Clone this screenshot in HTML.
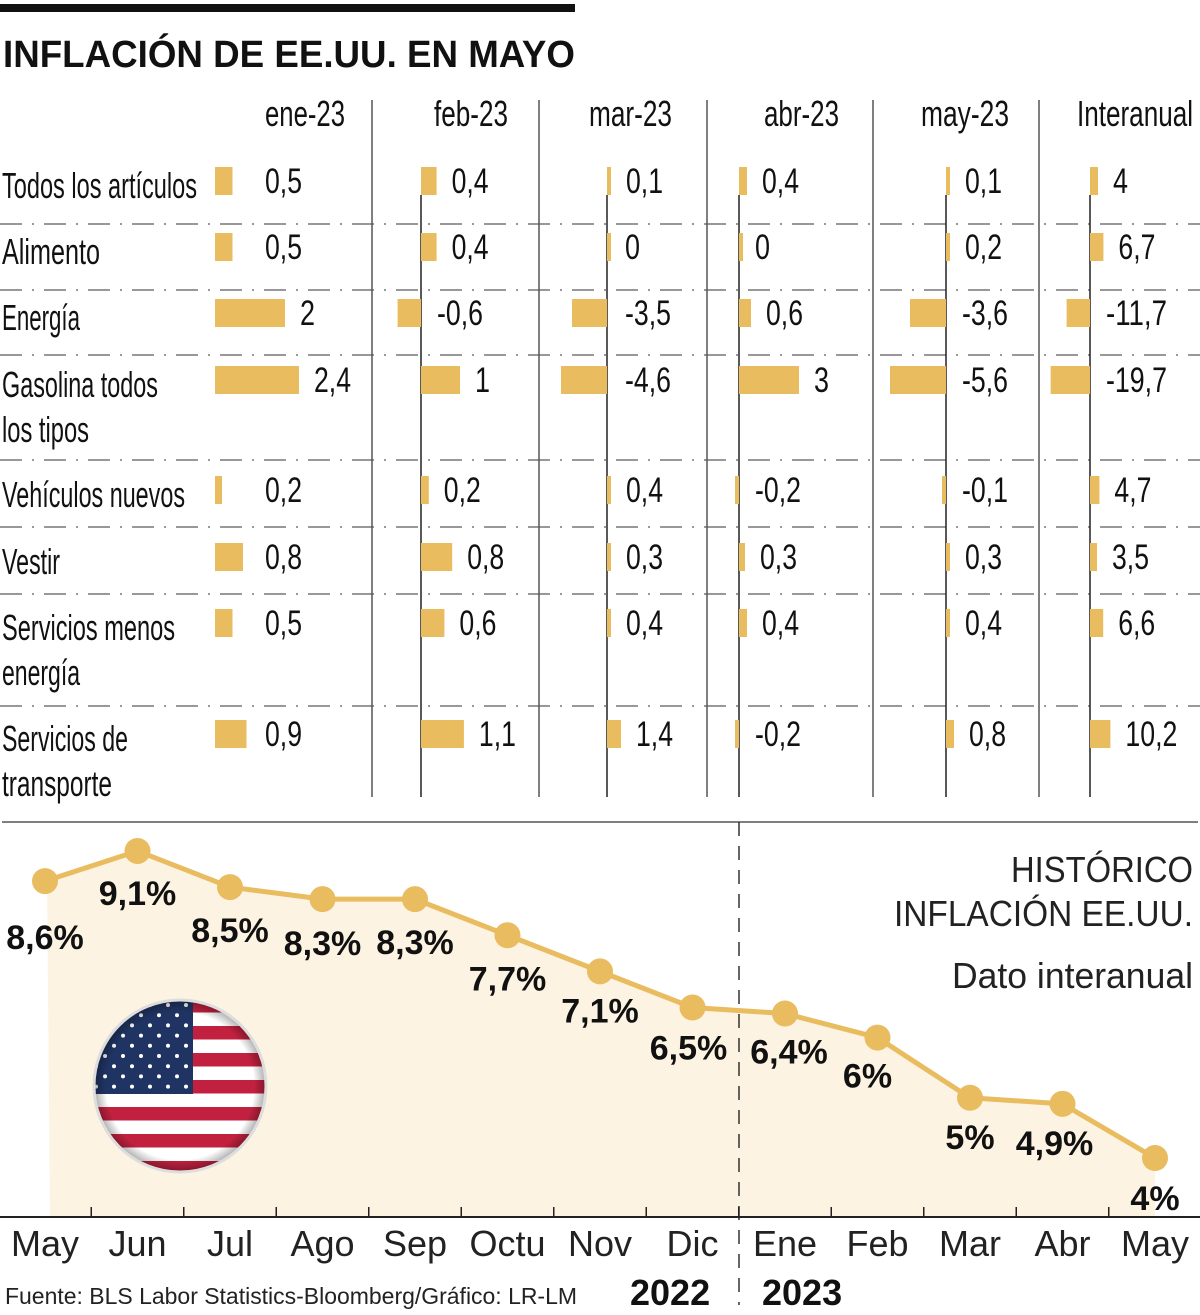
<!DOCTYPE html>
<html><head><meta charset="utf-8"><style>
html,body{margin:0;padding:0;background:#fff;}
svg{display:block;}
text{font-family:"Liberation Sans Narrow","Liberation Sans",sans-serif;}
.w{font-family:"Liberation Sans",sans-serif;}
</style></head><body>
<svg id="s" width="1200" height="1315" viewBox="0 0 1200 1315" xmlns="http://www.w3.org/2000/svg">
<defs>
<clipPath id="fc"><circle cx="180" cy="1086" r="87"/></clipPath>
<radialGradient id="fg" cx="0.5" cy="0.5" r="0.5"><stop offset="0.85" stop-color="#000" stop-opacity="0"/><stop offset="1" stop-color="#000" stop-opacity="0.35"/></radialGradient>
</defs>
<rect x="0" y="4" width="575" height="8" fill="#111"/>
<text x="3" y="67" font-size="38" font-weight="bold" textLength="572" lengthAdjust="spacingAndGlyphs" fill="#111" class="w">INFLACIÓN DE EE.UU. EN MAYO</text>
<g id="table"></g>
<line x1="2" y1="822" x2="1198" y2="822" stroke="#555" stroke-width="1.5"/>
<g id="line"></g>
</svg>
<script>
const NS="http://www.w3.org/2000/svg";
const rowLabels=[["Todos los artículos"],["Alimento"],["Energía"],["Gasolina todos","los tipos"],["Vehículos nuevos"],["Vestir"],["Servicios menos","energía"],["Servicios de","transporte"]];
const colHeaders=["ene-23","feb-23","mar-23","abr-23","may-23","Interanual"];
const eneVals=[0.5,0.5,2,2.4,0.2,0.8,0.5,0.9];
const febVals=[0.4,0.4,-0.6,1,0.2,0.8,0.6,1.1];
const marVals=[0.1,0,-3.5,-4.6,0.4,0.3,0.4,1.4];
const abrVals=[0.4,0,0.6,3,-0.2,0.3,0.4,-0.2];
const mayVals=[0.1,0.2,-3.6,-5.6,-0.1,0.3,0.4,0.8];
const interVals=[4,6.7,-11.7,-19.7,4.7,3.5,6.6,10.2];
const months=["May","Jun","Jul","Ago","Sep","Octu","Nov","Dic","Ene","Feb","Mar","Abr","May"];
const inflation=[8.6,9.1,8.5,8.3,8.3,7.7,7.1,6.5,6.4,6,5,4.9,4];

function el(tag,attrs,parent,txt){const e=document.createElementNS(NS,tag);for(const k in attrs)e.setAttribute(k,attrs[k]);if(txt!==undefined)e.textContent=txt;parent.appendChild(e);return e;}
const fmt=v=>String(v).replace('.',',');
const txtW=s=>{let w=0;for(const ch of s){w+=ch===','?7:(ch==='-'?9:15);}return w;};
const GOLD="#e8bc5f";

// ---- table ----
const T=document.getElementById('table');
const colVals=[eneVals,febVals,marVals,abrVals,mayVals,interVals];
const zeros=[215,421,607,739,946,1090];
const scales=[35,39,10,20,10,2];
const minOff=[50,16,18,16,16,16];
const showAxis=[false,true,true,true,true,true];
const hdrX=[265,434,589,764,921,1077];
const hdrW=[80,74,83,75,88,116];
const rowY=[181,247,313,380,490,557,623,734];
const sepY=[224,290,355,460,527,594,706];
const vSep=[372,539,707,873,1039];
const labW={"Todos los artículos":195,"Alimento":98,"Energía":78,"Gasolina todos":156,"los tipos":87,"Vehículos nuevos":183,"Vestir":58,"Servicios menos":173,"energía":78,"Servicios de":126,"transporte":110};
sepY.forEach(y=>{const l=el('line',{x1:0,y1:y,x2:1200,y2:y,stroke:"#777","stroke-width":1.5,"stroke-dasharray":"22,10,2,10"},T);

});
vSep.forEach(x=>{const l=el('line',{x1:x,y1:100,x2:x,y2:797,stroke:"#555","stroke-width":1.5},T);

});
colHeaders.forEach((h,i)=>{const t=el('text',{x:hdrX[i],y:126,"font-size":36,textLength:hdrW[i],lengthAdjust:"spacingAndGlyphs",fill:"#111"},T,h);

});
rowLabels.forEach((ls,r)=>{ls.forEach((s,j)=>{const t=el('text',{x:2,y:rowY[r]+17+j*45,"font-size":36,textLength:labW[s],lengthAdjust:"spacingAndGlyphs",fill:"#111"},T,s);

});});
colVals.forEach((vals,c)=>{
  const z=zeros[c],sc=scales[c];
  if(showAxis[c]){const a=el('line',{x1:z,y1:195,x2:z,y2:797,stroke:"#222","stroke-width":1.5},T);
  
  }
  vals.forEach((v,r)=>{
    let w=Math.abs(v)*sc; if(w<4)w=4;
    const x=v<0?z-w:z;
    const b=el('rect',{x:x,y:rowY[r]-14,width:w,height:28,fill:GOLD},T);
    
    
    const end=v>0?z+w:z;
    const lx=Math.max(z+minOff[c],end+15);
    const s=fmt(v);
    const t=el('text',{x:lx,y:rowY[r]+12,"font-size":35,fill:"#111",textLength:txtW(s),lengthAdjust:"spacingAndGlyphs"},T,s);
    
    
  });
});

// ---- line chart ----
const L=document.getElementById('line');
const xAt=i=>45+i*92.5;
const yAt=v=>1158-(v-4)*60.2;
const axisY=1217;
let d="M"+(xAt(0)+5)+","+axisY+" L"+(xAt(0)+2)+","+yAt(inflation[0]);
inflation.forEach((v,i)=>{d+=" L"+xAt(i)+","+yAt(v);});
d+=" L"+xAt(inflation.length-1)+","+axisY+" Z";
const area=el('path',{d:d,fill:"#fdf3e2"},L);


// flag
const F=el('g',{"clip-path":"url(#fc)"},L);


for(let k=0;k<13;k++){el('rect',{x:90,y:999+k*13.5,width:180,height:13.5,fill:k%2?"#fff":"#c1213f"},F);}
el('rect',{x:90,y:999,width:103,height:95,fill:"#203464"},F);
for(let r=0;r<9;r++){for(let c=0;c<(r%2?5:6);c++){el('circle',{cx:96+c*18+(r%2?9:0),cy:1005+r*10.2,r:2,fill:"#fff"},F);}}
el('circle',{cx:180,cy:1086,r:87,fill:"url(#fg)"},F);
el('circle',{cx:180,cy:1086,r:86,fill:"none",stroke:"#ddd","stroke-width":3},L);
// divider dashed
const dv=el('line',{x1:739,y1:822,x2:739,y2:1305,stroke:"#333","stroke-width":1.5,"stroke-dasharray":"14,10"},L);


// axis
const ax=el('line',{x1:0,y1:axisY,x2:1200,y2:axisY,stroke:"#222","stroke-width":2},L);


for(let i=0;i<months.length-1;i++){const tx=(xAt(i)+xAt(i+1))/2;const tk=el('line',{x1:tx,y1:axisY-10,x2:tx,y2:axisY,stroke:"#222","stroke-width":1.5},L);

}
months.forEach((m,i)=>{const t=el('text',{x:xAt(i),y:1256,"font-size":36,"text-anchor":"middle",fill:"#222","font-weight":"300",class:"w"},L,m);

});
// line
const pts=inflation.map((v,i)=>xAt(i)+","+yAt(v)).join(" ");
const pl=el('polyline',{points:pts,fill:"none",stroke:GOLD,"stroke-width":5},L);


const lblDx=[0,0,0,0,0,0,0,-4,4,-10,0,-8,0];
const lblDy=[56,42,43,44,43,43,39,40,38,38,39,39,40];
inflation.forEach((v,i)=>{
  const c=el('circle',{cx:xAt(i),cy:yAt(v),r:13,fill:GOLD},L);
  
  
  const t=el('text',{x:xAt(i)+lblDx[i],y:yAt(v)+lblDy[i]+12,"font-size":34,"font-weight":"bold","text-anchor":"middle",fill:"#111",class:"w"},L,fmt(v)+"%");
  
  
});
// titles
[["HISTÓRICO",882,182],["INFLACIÓN EE.UU.",926,299],["Dato interanual",988,241]].forEach((a,i)=>{
  const t=el('text',{x:1193-a[2],y:a[1],"font-size":36,fill:"#222",class:"w","font-weight":i<2?"normal":"300",textLength:a[2],lengthAdjust:"spacingAndGlyphs"},L,a[0]);
  
  
});
const src=el('text',{x:5,y:1304,"font-size":23,fill:"#222",class:"w",textLength:572,lengthAdjust:"spacingAndGlyphs"},L,"Fuente: BLS Labor Statistics-Bloomberg/Gráfico: LR-LM");


[["2022",630],["2023",762]].forEach(a=>{const t=el('text',{x:a[1],y:1305,"font-size":36,"font-weight":"bold",fill:"#111",class:"w"},L,a[0]);

});
</script>
</body></html>
